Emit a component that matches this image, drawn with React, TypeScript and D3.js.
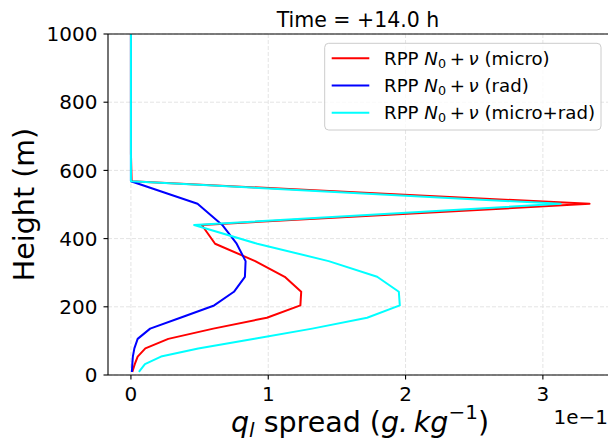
import React from "react";
import * as d3 from "d3";

const heights = [9, 32, 54, 78, 106, 136, 168, 204, 244, 288, 334, 385, 440, 502, 568, 650, 750, 850, 950, 1000];
const microValues = [0.01, 0.028, 0.049, 0.105, 0.272, 0.6, 0.99, 1.234, 1.24, 1.12, 0.905, 0.613, 0.516, 3.34, 0.005, 0, 0, 0, 0, 0];
const radValues = [0.007, 0.01, 0.014, 0.025, 0.049, 0.14, 0.36, 0.606, 0.75, 0.83, 0.835, 0.77, 0.665, 0.485, 0.0, 0, 0, 0, 0, 0];
const microRadValues = [0.058, 0.102, 0.219, 0.49, 0.9, 1.32, 1.72, 1.958, 1.951, 1.793, 1.44, 0.92, 0.46, 3.13, 0.0, 0, 0, 0, 0, 0];

const seriesNames = ["(micro)", "(rad)", "(micro+rad)"];
const seriesColors = ["#ff0000", "#0000ff", "#00ffff"];
const xTicks = [0, 1, 2, 3];
const yTicks = [0, 200, 400, 600, 800, 1000];

const W = 608;
const H = 446;
const left = 108;
const right = 612.5;
const top = 34;
const bottom = 375;
const FONT = "DejaVu Sans, sans-serif";

export default function App() {
  const x = d3.scaleLinear().domain([-0.167, 3.507]).range([left, right]);
  const y = d3.scaleLinear().domain([0, 1000]).range([bottom, top]);
  const allSeries = [microValues, radValues, microRadValues];
  const line = d3
    .line<[number, number]>()
    .x((d) => x(d[0]))
    .y((d) => y(d[1]));

  const gridColor = "#e4e4e4";

  return (
    <svg
      width={W}
      height={H}
      viewBox={`0 0 ${W} ${H}`}
      style={{ position: "fixed", left: 0, top: 0, background: "#fff" }}
      fontFamily={FONT}
    >
      <rect x={0} y={0} width={W} height={H} fill="#fff" />
      <defs>
        <clipPath id="plotclip">
          <rect x={left} y={top} width={right - left} height={bottom - top} />
        </clipPath>
      </defs>
      {/* grid */}
      {xTicks.map((t) => (
        <line key={"gx" + t} x1={x(t)} x2={x(t)} y1={top} y2={bottom} stroke={gridColor} strokeWidth={1} strokeDasharray="4,2" />
      ))}
      {yTicks.map((t) => (
        <line key={"gy" + t} x1={left} x2={right} y1={y(t)} y2={y(t)} stroke={gridColor} strokeWidth={1} strokeDasharray="4,2" />
      ))}
      {/* lines */}
      <g clipPath="url(#plotclip)">
        {allSeries.map((vals, i) => (
          <path
            key={i}
            d={line(vals.map((v, j) => [v, heights[j]] as [number, number])) || ""}
            fill="none"
            stroke={seriesColors[i]}
            strokeWidth={2}
            strokeLinejoin="round"
          />
        ))}
      </g>
      {/* spines */}
      <line x1={left} x2={left} y1={top} y2={bottom} stroke="#000" strokeWidth={1.1} />
      <line x1={left} x2={right} y1={bottom} y2={bottom} stroke="#000" strokeWidth={1.1} />
      <line x1={left} x2={right} y1={top} y2={top} stroke="#000" strokeWidth={1.1} />
      {/* x ticks */}
      {xTicks.map((t) => (
        <g key={"xt" + t}>
          <line x1={x(t)} x2={x(t)} y1={bottom} y2={bottom + 4.5} stroke="#000" strokeWidth={1.1} />
          <text x={x(t)} y={400.5} fontSize={20} textAnchor="middle" fill="#000">
            {t}
          </text>
        </g>
      ))}
      {/* y ticks */}
      {yTicks.map((t) => (
        <g key={"yt" + t}>
          <line x1={left - 4.5} x2={left} y1={y(t)} y2={y(t)} stroke="#000" strokeWidth={1.1} />
          <text x={97.5} y={y(t)} dy="0.36em" fontSize={20} textAnchor="end" fill="#000">
            {t}
          </text>
        </g>
      ))}
      {/* offset text */}
      <text x={608} y={424} fontSize={20} textAnchor="end" fill="#000">
        1e−1
      </text>
      {/* x label */}
      <text x={360} y={432} fontSize={28.5} textAnchor="middle" fill="#000">
        <tspan fontStyle="italic">q</tspan>
        <tspan fontStyle="italic" fontSize={20} dy={5}>l</tspan>
        <tspan dy={-5}> spread (</tspan>
        <tspan fontStyle="italic">g.</tspan>
        <tspan fontStyle="italic">{"\u2009kg"}</tspan>
        <tspan fontSize={20} dy={-13}>−1</tspan>
        <tspan dy={13}>)</tspan>
      </text>
      {/* y label */}
      <text
        transform={`translate(34,${(top + bottom) / 2}) rotate(-90)`}
        fontSize={28.5}
        textAnchor="middle"
        fill="#000"
      >
        Height (m)
      </text>
      {/* title */}
      <text x={358} y={27} fontSize={20.5} textAnchor="middle" fill="#000">
        Time = +14.0 h
      </text>
      {/* legend */}
      <g>
        <rect x={324.7} y={43.3} width={276.3} height={86.7} rx={4} ry={4} fill="#fff" fillOpacity={0.8} stroke="#cccccc" strokeWidth={1} />
        {seriesNames.map((name, i) => {
          const ry = 58.3 + i * 27.2;
          return (
            <g key={"lg" + i}>
              <line x1={331.7} x2={369.3} y1={ry} y2={ry} stroke={seriesColors[i]} strokeWidth={2} />
              <text x={384} y={ry + 6.4} fontSize={18.2} fill="#000">
                <tspan>RPP </tspan>
                <tspan fontStyle="italic">N</tspan>
                <tspan fontSize={12.7} dy={3}>0</tspan>
                <tspan dy={-3}>{"\u2009+\u2009"}</tspan>
                <tspan fontStyle="italic">ν</tspan>
                <tspan>{" " + name}</tspan>
              </text>
            </g>
          );
        })}
      </g>
    </svg>
  );
}
